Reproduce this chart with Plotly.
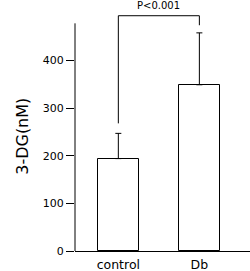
import plotly.graph_objects as go

categories = ["control", "Db"]
means = [194, 349]
err_plus = [53, 109]
y_ticks = [0, 100, 200, 300, 400]
p_label = "P<0.001"
y_title = "3-DG(nM)"

FONT = "DejaVu Sans, sans-serif"
INK = "#000000"

fig = go.Figure()
fig.add_trace(go.Bar(
    x=[0, 1], y=means, width=[0.512, 0.512],
    marker=dict(color="white", line=dict(color=INK, width=1)),
    error_y=dict(type="data", symmetric=False, array=err_plus,
                 arrayminus=[0, 0], color=INK, thickness=1, width=3),
    showlegend=False,
))

y_axis_top = 478
# visible y-axis line (stops below the bracket area)
fig.add_shape(type="line", xref="paper", yref="y", x0=0, x1=0, y0=0, y1=y_axis_top,
              line=dict(color=INK, width=1))

# significance bracket
br_top = 494
left_bottom = means[0] + err_plus[0] + 21
right_bottom = means[1] + err_plus[1] + 16
fig.add_shape(type="path", xref="x", yref="y",
              path=f"M 0,{left_bottom} L 0,{br_top} L 1,{br_top} L 1,{right_bottom}",
              line=dict(color=INK, width=1))
fig.add_annotation(x=0.5, y=1.0166, xref="x", yref="paper", yanchor="middle",
                   text=p_label, showarrow=False,
                   font=dict(family=FONT, size=10, color=INK))

fig.add_annotation(xref="paper", yref="paper", x=-0.37, y=0.477, text=y_title,
                   textangle=-90, showarrow=False,
                   font=dict(family=FONT, size=16, color=INK))

fig.update_layout(
    width=250, height=271,
    margin=dict(l=75, r=0, t=10, b=20, pad=0),
    plot_bgcolor="white", paper_bgcolor="white",
    bargap=0,
    font=dict(family=FONT, size=12, color=INK),
)
fig.update_xaxes(
    range=[-0.535, 1.625], tickmode="array", tickvals=[0, 1], ticktext=categories,
    showline=True, linecolor=INK, linewidth=1, showgrid=False, zeroline=False,
    ticks="", ticklabelstandoff=2,
    tickfont=dict(size=12.5, family=FONT, color=INK), fixedrange=True,
)
fig.update_yaxes(
    range=[0, 506], tickmode="array", tickvals=y_ticks,
    showline=False, showgrid=False, zeroline=False,
    ticks="outside", ticklen=8, tickcolor=INK, tickwidth=1,
    tickfont=dict(size=11, family=FONT, color=INK),
)

fig.write_html("out.html")
